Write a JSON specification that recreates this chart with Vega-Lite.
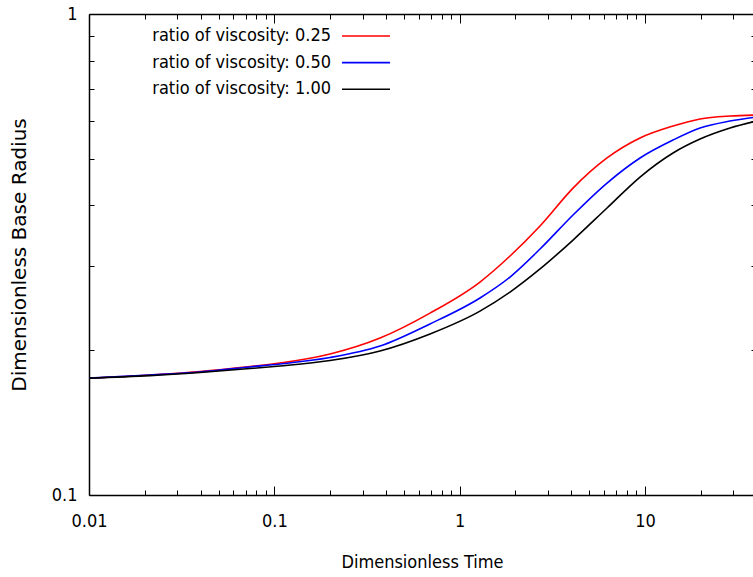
{
  "$schema": "https://vega.github.io/schema/vega-lite/v6.json",
  "autosize": {"type": "none"},
  "width": 664,
  "height": 481,
  "padding": {"left": 89, "top": 14, "right": 0, "bottom": 82},
  "background": "white",
  "config": {
    "view": {"stroke": null},
    "font": "DejaVu Sans Condensed, Liberation Sans Narrow, DejaVu Sans",
    "axis": {
      "domainColor": "#000000",
      "domainWidth": 1.5,
      "tickColor": "#000000",
      "tickWidth": 1,
      "grid": false,
      "labelFlush": false,
      "labelOverlap": false,
      "labelColor": "#000000",
      "titleColor": "#000000",
      "labelFont": "DejaVu Sans Condensed, Liberation Sans Narrow, DejaVu Sans",
      "labelFontSize": 18,
      "titleFontWeight": "normal"
    }
  },
  "data": {
    "values": [
      {"series": "ratio of viscosity: 0.25", "t": 0.01, "r": 0.1750},
      {"series": "ratio of viscosity: 0.25", "t": 0.02134, "r": 0.1776},
      {"series": "ratio of viscosity: 0.25", "t": 0.03972, "r": 0.1806},
      {"series": "ratio of viscosity: 0.25", "t": 0.07393, "r": 0.1850},
      {"series": "ratio of viscosity: 0.25", "t": 0.1074, "r": 0.1881},
      {"series": "ratio of viscosity: 0.25", "t": 0.1998, "r": 0.1964},
      {"series": "ratio of viscosity: 0.25", "t": 0.372, "r": 0.2120},
      {"series": "ratio of viscosity: 0.25", "t": 0.6922, "r": 0.2389},
      {"series": "ratio of viscosity: 0.25", "t": 1.288, "r": 0.2772},
      {"series": "ratio of viscosity: 0.25", "t": 1.871, "r": 0.3140},
      {"series": "ratio of viscosity: 0.25", "t": 2.716, "r": 0.3625},
      {"series": "ratio of viscosity: 0.25", "t": 4.093, "r": 0.4346},
      {"series": "ratio of viscosity: 0.25", "t": 6.245, "r": 0.5020},
      {"series": "ratio of viscosity: 0.25", "t": 9.41, "r": 0.5523},
      {"series": "ratio of viscosity: 0.25", "t": 14.18, "r": 0.5848},
      {"series": "ratio of viscosity: 0.25", "t": 19.84, "r": 0.6049},
      {"series": "ratio of viscosity: 0.25", "t": 28.79, "r": 0.6136},
      {"series": "ratio of viscosity: 0.25", "t": 40, "r": 0.6166},
      {"series": "ratio of viscosity: 0.50", "t": 0.01, "r": 0.1750},
      {"series": "ratio of viscosity: 0.50", "t": 0.02134, "r": 0.1776},
      {"series": "ratio of viscosity: 0.50", "t": 0.03972, "r": 0.1802},
      {"series": "ratio of viscosity: 0.50", "t": 0.07393, "r": 0.1846},
      {"series": "ratio of viscosity: 0.50", "t": 0.1074, "r": 0.1872},
      {"series": "ratio of viscosity: 0.50", "t": 0.1998, "r": 0.1931},
      {"series": "ratio of viscosity: 0.50", "t": 0.372, "r": 0.2040},
      {"series": "ratio of viscosity: 0.50", "t": 0.6922, "r": 0.2268},
      {"series": "ratio of viscosity: 0.50", "t": 1.288, "r": 0.2568},
      {"series": "ratio of viscosity: 0.50", "t": 1.871, "r": 0.2839},
      {"series": "ratio of viscosity: 0.50", "t": 2.716, "r": 0.3246},
      {"series": "ratio of viscosity: 0.50", "t": 4.093, "r": 0.3821},
      {"series": "ratio of viscosity: 0.50", "t": 6.245, "r": 0.4452},
      {"series": "ratio of viscosity: 0.50", "t": 9.41, "r": 0.5020},
      {"series": "ratio of viscosity: 0.50", "t": 14.18, "r": 0.5470},
      {"series": "ratio of viscosity: 0.50", "t": 19.84, "r": 0.5794},
      {"series": "ratio of viscosity: 0.50", "t": 28.79, "r": 0.5991},
      {"series": "ratio of viscosity: 0.50", "t": 40, "r": 0.6107},
      {"series": "ratio of viscosity: 1.00", "t": 0.01, "r": 0.1750},
      {"series": "ratio of viscosity: 1.00", "t": 0.02134, "r": 0.1771},
      {"series": "ratio of viscosity: 1.00", "t": 0.03972, "r": 0.1798},
      {"series": "ratio of viscosity: 1.00", "t": 0.07393, "r": 0.1832},
      {"series": "ratio of viscosity: 1.00", "t": 0.1074, "r": 0.1855},
      {"series": "ratio of viscosity: 1.00", "t": 0.1998, "r": 0.1904},
      {"series": "ratio of viscosity: 1.00", "t": 0.372, "r": 0.1993},
      {"series": "ratio of viscosity: 1.00", "t": 0.6922, "r": 0.2162},
      {"series": "ratio of viscosity: 1.00", "t": 1.288, "r": 0.2412},
      {"series": "ratio of viscosity: 1.00", "t": 1.871, "r": 0.2642},
      {"series": "ratio of viscosity: 1.00", "t": 2.716, "r": 0.2951},
      {"series": "ratio of viscosity: 1.00", "t": 4.093, "r": 0.3389},
      {"series": "ratio of viscosity: 1.00", "t": 6.245, "r": 0.3951},
      {"series": "ratio of viscosity: 1.00", "t": 9.41, "r": 0.4582},
      {"series": "ratio of viscosity: 1.00", "t": 14.18, "r": 0.5141},
      {"series": "ratio of viscosity: 1.00", "t": 19.84, "r": 0.5496},
      {"series": "ratio of viscosity: 1.00", "t": 28.79, "r": 0.5794},
      {"series": "ratio of viscosity: 1.00", "t": 40, "r": 0.5991}
    ]
  },
  "resolve": {"axis": {"x": "independent", "y": "independent"}},
  "layer": [
    {
      "mark": {"type": "line", "strokeWidth": 1.6, "opacity": 0, "interpolate": "monotone"},
      "encoding": {
        "detail": {"field": "series"},
        "x": {"field": "t", "type": "quantitative",
              "scale": {"type": "log", "domain": [0.01, 38.3], "nice": false},
              "axis": {"orient": "bottom", "values": [0.02,0.03,0.04,0.05,0.06,0.07,0.08,0.09,0.2,0.3,0.4,0.5,0.6,0.7,0.8,0.9,2,3,4,5,6,7,8,9,20,30],
                       "tickSize": -5, "labels": false, "domain": false, "title": null}},
        "y": {"field": "r", "type": "quantitative",
              "scale": {"type": "log", "domain": [0.1, 1], "nice": false},
              "axis": {"orient": "left", "values": [0.2,0.3,0.4,0.5,0.6,0.7,0.8,0.9],
                       "tickSize": -5, "labels": false, "domain": false, "title": null}}
      }
    },
    {
      "mark": {"type": "line", "strokeWidth": 1.6, "opacity": 0, "interpolate": "monotone"},
      "encoding": {
        "detail": {"field": "series"},
        "x": {"field": "t", "type": "quantitative",
              "axis": {"orient": "top", "values": [0.01,0.1,1,10], "tickSize": -9, "labels": false, "domain": true, "title": null}},
        "y": {"field": "r", "type": "quantitative",
              "axis": {"orient": "right", "offset": 3, "values": [0.2,0.3,0.4,0.5,0.6,0.7,0.8,0.9],
                       "tickSize": -5, "labels": false, "domain": false, "title": null}}
      }
    },
    {
      "mark": {"type": "line", "strokeWidth": 1.6, "opacity": 0, "interpolate": "monotone"},
      "encoding": {
        "detail": {"field": "series"},
        "x": {"field": "t", "type": "quantitative",
              "axis": {"orient": "top", "values": [0.02,0.03,0.04,0.05,0.06,0.07,0.08,0.09,0.2,0.3,0.4,0.5,0.6,0.7,0.8,0.9,2,3,4,5,6,7,8,9,20,30],
                       "tickSize": -5, "labels": false, "domain": false, "title": null}},
        "y": {"field": "r", "type": "quantitative", "axis": null}
      }
    },
    {
      "mark": {"type": "line", "strokeWidth": 1.6, "interpolate": "monotone"},
      "encoding": {
        "x": {"field": "t", "type": "quantitative",
              "axis": {"orient": "bottom", "values": [0.01,0.1,1,10], "format": "~g", "tickSize": -9,
                       "labelPadding": 26, "labelBaseline": "top",
                       "title": "Dimensionless Time", "titleFontSize": 18,
                       "titleFont": "DejaVu Sans Condensed, Liberation Sans Narrow, DejaVu Sans",
                       "titleBaseline": "alphabetic", "titleX": 333, "titleY": 72}},
        "y": {"field": "r", "type": "quantitative",
              "axis": {"orient": "left", "values": [0.1, 1], "format": "~g", "tickSize": -9,
                       "labelPadding": 21, "labelBaseline": "middle",
                       "title": "Dimensionless Base Radius", "titleFontSize": 20,
                       "titleFont": "DejaVu Sans", "titleBaseline": "alphabetic",
                       "titleX": -64, "titleY": 240.5, "titleAngle": -90, "titleAlign": "center"}},
        "color": {"field": "series", "type": "nominal",
                  "scale": {"domain": ["ratio of viscosity: 0.25", "ratio of viscosity: 0.50", "ratio of viscosity: 1.00"],
                            "range": ["#ff0000", "#0000ff", "#000000"]},
                  "legend": {"orient": "none", "legendX": 264, "legendY": 9, "title": null,
                             "symbolType": "M-2,0H2", "symbolSize": 576, "symbolStrokeWidth": 1.6,
                             "labelAlign": "right", "labelOffset": -48, "labelFontSize": 18,
                             "labelFont": "DejaVu Sans Condensed, Liberation Sans Narrow, DejaVu Sans",
                             "labelColor": "#000000", "padding": 0, "rowPadding": 4.6, "labelLimit": 400}}
      }
    }
  ]
}
